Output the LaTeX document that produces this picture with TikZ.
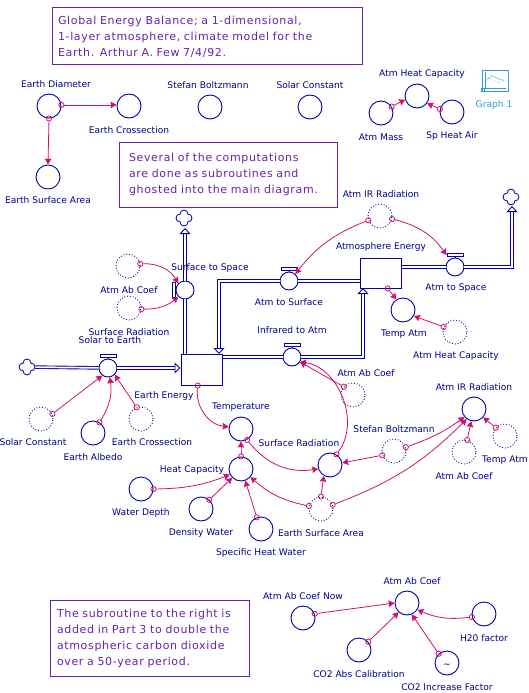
\documentclass[tikz,border=0pt]{standalone}
\usepackage{fontspec}
\setmainfont{DejaVu Sans}
\newfontfamily\notefont[LetterSpace=6]{DejaVu Sans}
\usepackage{tikz}
\usetikzlibrary{arrows.meta,shapes.symbols}
\definecolor{flowblue}{HTML}{0000A8}
\definecolor{labelblue}{HTML}{000090}
\definecolor{linkpink}{HTML}{D0106A}
\definecolor{notepurple}{HTML}{6A1FB0}
\definecolor{graphcyan}{HTML}{2E9FD8}
\tikzset{
  every picture/.style={
    line join=miter,
    >=Stealth,
  },
  conv/.style={circle, draw=flowblue, line width=0.9pt, minimum size=24pt, inner sep=0pt},
  ghost/.style={conv, dash pattern=on 0.9pt off 1.9pt},
  valve/.style={circle, draw=flowblue, line width=0.9pt, minimum size=18pt, inner sep=0pt},
  handle/.style={rectangle, draw=flowblue, line width=0.8pt, minimum width=16pt, minimum height=2.5pt, inner sep=0pt},
  stock/.style={rectangle, draw=flowblue, line width=1pt, minimum width=41pt, minimum height=31pt, inner sep=0pt},
  puff/.style={cloud, cloud puffs=4, cloud puff arc=190, aspect=1, draw=flowblue, line width=0.8pt, minimum size=16pt, inner sep=0pt, shape border rotate=45},
  flow/.style={draw=flowblue, double=white, double distance=1.7pt, line width=0.9pt},
  flowin/.style={flow, -{Triangle[open, fill=white, length=6pt, width=11pt]}},
  link/.style={draw=linkpink, line width=0.8pt, -{Stealth[length=6pt, width=6.5pt, inset=0.6pt]}},
  tail/.style={circle, draw=linkpink, line width=0.8pt, minimum size=5.2pt, inner sep=0pt},
  lab/.style={text=labelblue, font=\fontsize{9.1}{10}\selectfont, inner sep=0pt},
  note/.style={rectangle, draw=notepurple, text=notepurple, line width=1pt, align=left, inner ysep=0pt,
    font=\notefont\fontsize{11}{16}\selectfont},
}
\begin{document}
\begin{tikzpicture}[x=1pt, y=-1pt]
    \useasboundingbox (0,0) rectangle (529,693);

    % Notes
    \node[note, inner xsep=6pt, text width=298pt, minimum height=57pt] (notetop) at (207,36.5)
        {Global Energy Balance; a 1-dimensional,\\1-layer atmosphere, climate model for the\\Earth.  Arthur A. Few 7/4/92.};
    \node[note, inner xsep=10pt, text width=198pt, minimum height=65pt] (notemid) at (228,174.5)
        {Several of the computations\\are done as subroutines and\\ghosted into the main diagram.};
    \node[note, inner xsep=7pt, text width=185pt, minimum height=76pt] (notelow) at (149.5,638)
        {The subroutine to the right is\\added in Part 3 to double the\\atmospheric carbon dioxide\\over a 50-year period.};

    % Stocks
    \node[stock] (earth) at (201.5,369.5) {};
    \node[stock, minimum height=30pt] (atmos) at (380.5,273) {};

    % Valves
    \node[valve] (solar) at (108,368) {};
    \node[valve] (surfspace) at (185,290) {};
    \node[valve] (atmsurf) at (289,281) {};
    \node[valve] (infra) at (292,357) {};
    \node[valve] (atmspace) at (455,267) {};
    \foreach \v in {solar,atmsurf,infra,atmspace} {
        \node[handle] (\v-bar) at ([yshift=12pt]\v.center) {};
        \draw[flowblue, line width=0.8pt] (\v) -- (\v-bar);
    }
    \node[handle, minimum width=3pt, minimum height=15pt] (surfspace-bar) at ([xshift=-11.5pt]surfspace.center) {};
    \draw[flowblue, line width=0.8pt] (surfspace) -- (surfspace-bar);

    % Clouds
    \node[puff] (cloudleft) at (27,367) {};
    \node[puff] (cloudtop) at (184,218) {};
    \node[puff] (cloudright) at (511,197) {};
    \coordinate (earthin) at (219,354);
    \coordinate (atmosin) at (363,288);
    \coordinate (topout) at (185,228);
    \coordinate (rightout) at (512,206);

    % Flows
    \draw[flow] (cloudleft) -- (solar);
    \draw[flowin] (solar) -- (solar -| earth.west);
    \draw[flow] (surfspace |- earth.north) -- (surfspace);
    \draw[flowin] (surfspace) -- (topout);
    \draw[flow] (atmsurf -| atmos.west) -- (atmsurf);
    \draw[flowin] (atmsurf) -| (earthin);
    \draw[flow] (infra -| earth.east) -- (infra);
    \draw[flowin] (infra) -| (atmosin);
    \draw[flow] (atmspace -| atmos.east) -- (atmspace);
    \draw[flowin] (atmspace) -| (rightout);

    % Converters
    \foreach \n/\x/\y in {diam/49/106, cross/129/106, area/48/177, boltz/210/107, const/310/107,
        heatcap/417/96, mass/381/113, spheat/452/112, albedo/93/433, temp/241/429, capac/241/469,
        surfrad/330/465, water/141/489, density/201/509, specific/261/529, irrad/474/409, tempatm/403/310,
        abcoef/407/603, abnow/303/618, calib/359/650, increase/447/663, htwoo/484/614}
        \node[conv] (\n) at (\x,\y) {};

    % Ghosts
    \foreach \n/\x/\y in {gabone/128/266, gabtwo/129/308, gconst/41/419, gcross/141/419, gab/353/395,
        gboltz/394/451, gabir/464/452, gtempatm/505/436, garea/321/509, girrad/380/216, gheatcap/455/332}
        \node[ghost] (\n) at (\x,\y) {};

    % Links, bend left is positive
    \foreach \src/\sa/\dst/\da/\bend [count=\i] in {
        diam/5/cross/175/0, diam/270/area/90/0, mass/31/heatcap/197/0, spheat/166/heatcap/324/0,
        gabone/10/surfspace/135/30, gabtwo/355/surfspace/225/-20,
        gconst/24/solar/233/0, albedo/59/solar/281/-20, gcross/110/solar/315/0,
        earth/257/temp/170/-45, temp/299/surfrad/198/-30, capac/90/temp/270/0,
        water/0/capac/207/-10, density/48/capac/225/0, specific/110/capac/290/0,
        garea/166/capac/320/15, garea/90/surfrad/240/0, garea/20/irrad/234/-12,
        surfrad/59/infra/328/-60, gab/138/infra/328/0, gboltz/200/surfrad/10/0,
        gboltz/18/irrad/220/-8, gabir/75/irrad/257/0, gtempatm/138/irrad/318/0,
        girrad/200/atmsurf/48/-15, atmos/295/tempatm/122/0, gheatcap/156/tempatm/331/0,
        abnow/20/abcoef/180/0, calib/42/abcoef/228/0, increase/132/abcoef/293/0, htwoo/194/abcoef/327/15}
    {
        \node[tail] (tail\i) at (\src.\sa) {};
        \draw[link] (tail\i) to[bend left=\bend] (\dst.\da);
    }
    \node[tail] (tailspace) at (girrad.346) {};
    \draw[link] (tailspace) to[bend left=20] (atmspace-bar.west);

    % Labels
    \foreach \x/\y/\txt [count=\i] in {
        56/84/Earth Diameter, 129/130/Earth Crossection, 48/200/Earth Surface Area,
        208/85/Stefan Boltzmann, 310/85/Solar Constant, 422/74/Atm Heat Capacity,
        381/137/Atm Mass, 452/136/Sp Heat Air, 381/194/Atm IR Radiation,
        210/268/Surface to Space, 129/290/Atm Ab Coef, 129/332/Surface Radiation,
        110/340/Solar to Earth, 164/396/Earth Energy, 33/442/Solar Constant,
        93/457/Earth Albedo, 152/442/Earth Crossection, 241/407/Temperature,
        299/443/Surface Radiation, 192/470/Heat Capacity, 141/513/Water Depth,
        201/533/Density Water, 261/553/Specific Heat Water, 321/533/Earth Surface Area,
        289/302/Atm to Surface, 292/330/Infrared to Atm, 381/247/Atmosphere Energy,
        456/288/Atm to Space, 404/334/Temp Atm, 456/356/Atm Heat Capacity,
        366/373/Atm Ab Coef, 474/387/Atm IR Radiation, 394/429/Stefan Boltzmann,
        464/476/Atm Ab Coef, 505/460/Temp Atm, 412/581/Atm Ab Coef,
        303/596/Atm Ab Coef Now, 359/674/CO2 Abs Calibration, 447/687/CO2 Increase Factor,
        484/638/H20 factor}
        \node[lab] (lab\i) at (\x,\y) {\txt};
    \node[lab] (tilde) at (447,666) {\textasciitilde};

    % Graph pad
    \node[rectangle, draw=graphcyan, line width=0.9pt, minimum width=26pt, minimum height=21pt, inner sep=0pt] (graphpad) at (495,80.5) {};
    \draw[graphcyan, line width=0.5pt] ([shift={(4pt,-2pt)}]graphpad.north west) |- ([shift={(-2pt,3pt)}]graphpad.south east);
    \draw[graphcyan, line width=0.4pt] ([shift={(5pt,-11pt)}]graphpad.north west) -- ++(5,-5) -- ++(6,3) -- ++(7,2);
    \draw[graphcyan, densely dotted, line width=0.4pt] ([shift={(5pt,-8pt)}]graphpad.north west) -- ++(5,2) -- ++(6,3) -- ++(7,-3);
    \node[rectangle, draw=graphcyan, line width=0.5pt, minimum size=3pt, inner sep=0pt] (graphcorner) at ([shift={(1.5pt,1.5pt)}]graphpad.south west) {};
    \node[lab, text=graphcyan] (graphlabel) at (494,105) {Graph 1};
\end{tikzpicture}
\end{document}
